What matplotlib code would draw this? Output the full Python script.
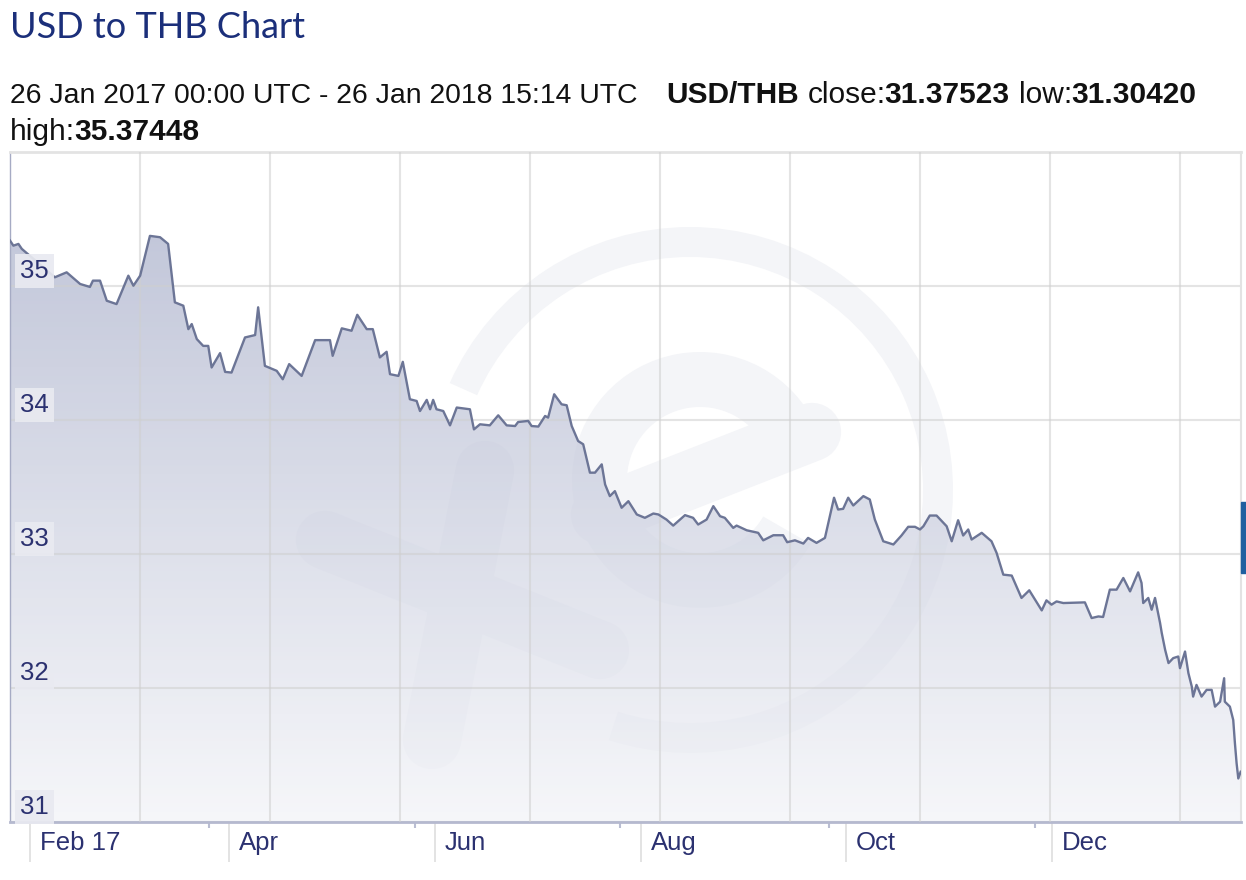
import datetime as dt
import numpy as np
import matplotlib
matplotlib.use("Agg")
import matplotlib.pyplot as plt
import matplotlib.dates as mdates
from matplotlib.colors import LinearSegmentedColormap
from matplotlib.patches import Wedge, Rectangle
from matplotlib.transforms import Affine2D, ScaledTranslation, blended_transform_factory

# USD/THB daily rate, 26 Jan 2017 - 26 Jan 2018 (days counted from start)
start = dt.datetime(2017, 1, 26)
days = [0.0, 1.0, 2.5, 3.5, 13.3, 16.8, 20.8, 23.7, 24.6, 26.7, 28.7, 31.6, 35.1, 36.6, 38.6,
        41.5, 44.5, 46.9, 48.9, 51.4, 52.9, 53.9, 55.4, 57.3, 58.8, 59.8, 62.3, 63.8, 65.7,
        69.7, 72.7, 73.6, 75.6, 79.1, 80.9, 82.8, 86.5, 90.5, 94.9, 95.7, 98.4, 101.3, 103.0,
        105.8, 107.6, 109.7, 111.7, 112.7, 115.2, 116.5, 118.6, 120.6, 121.6, 123.6, 124.6,
        125.5, 126.5, 128.5, 130.5, 132.5, 136.4, 137.6, 139.4, 142.3, 144.8, 147.3, 149.8,
        150.7, 153.7, 154.7, 156.7, 158.7, 159.6, 161.4, 163.6, 165.1, 166.6, 168.5, 170.0,
        172.0, 173.5, 175.5, 176.5, 177.9, 179.4, 181.4, 183.4, 185.9, 188.3, 190.8, 192.3,
        194.7, 196.7, 200.2, 202.6, 204.1, 206.6, 208.6, 210.6, 212.0, 214.5, 215.5, 218.5,
        221.9, 223.4, 226.4, 229.3, 230.5, 232.8, 235.3, 236.7, 239.2, 241.7, 244.4, 245.6,
        247.1, 248.6, 250.1, 253.1, 255.0, 256.5, 259.0, 262.0, 264.4, 266.4, 268.4, 269.9,
        270.9, 272.8, 274.8, 277.8, 279.3, 281.2, 282.7, 284.2, 285.2, 288.2, 291.1, 292.6,
        294.6, 297.1, 300.0, 302.3, 306.0, 307.4, 308.9, 310.4, 312.4, 318.8, 320.8, 322.8,
        324.2, 326.2, 328.2, 330.2, 332.2, 334.6, 335.6, 336.1, 337.6, 338.6, 339.6, 341.1,
        341.6, 342.6, 343.6, 345.0, 346.5, 347.0, 348.5, 349.5, 350.5, 350.9, 351.9, 353.4,
        354.9, 356.4, 357.4, 358.9, 360.1, 360.3, 361.8, 362.8, 363.3, 363.8, 364.3, 365.0]
rates = [35.339, 35.301, 35.314, 35.277, 35.065, 35.102, 35.015, 34.993, 35.040, 35.040,
         34.890, 34.865, 35.077, 35.002, 35.077, 35.374, 35.364, 35.314, 34.878, 34.853,
         34.678, 34.716, 34.604, 34.553, 34.553, 34.392, 34.499, 34.359, 34.354, 34.616,
         34.634, 34.841, 34.404, 34.367, 34.304, 34.417, 34.329, 34.596, 34.596, 34.479,
         34.684, 34.666, 34.785, 34.678, 34.678, 34.467, 34.509, 34.342, 34.329, 34.434,
         34.155, 34.142, 34.067, 34.150, 34.080, 34.150, 34.080, 34.067, 33.960, 34.093,
         34.080, 33.930, 33.968, 33.960, 34.035, 33.960, 33.955, 33.985, 33.993, 33.955,
         33.951, 34.030, 34.018, 34.192, 34.117, 34.110, 33.955, 33.843, 33.819, 33.607,
         33.607, 33.669, 33.519, 33.432, 33.469, 33.345, 33.394, 33.295, 33.270, 33.302,
         33.295, 33.257, 33.212, 33.290, 33.270, 33.220, 33.257, 33.357, 33.282, 33.270,
         33.195, 33.212, 33.177, 33.158, 33.102, 33.140, 33.140, 33.088, 33.102, 33.078,
         33.120, 33.083, 33.120, 33.420, 33.332, 33.337, 33.420, 33.362, 33.432, 33.407,
         33.257, 33.095, 33.071, 33.138, 33.203, 33.203, 33.183, 33.207, 33.287, 33.287,
         33.207, 33.095, 33.252, 33.138, 33.183, 33.108, 33.158, 33.095, 33.009, 32.846,
         32.839, 32.672, 32.729, 32.579, 32.654, 32.622, 32.646, 32.634, 32.639, 32.522,
         32.534, 32.530, 32.734, 32.734, 32.821, 32.721, 32.863, 32.784, 32.634, 32.672,
         32.584, 32.672, 32.485, 32.410, 32.285, 32.186, 32.223, 32.235, 32.148, 32.272,
         32.111, 32.011, 31.936, 32.023, 31.936, 31.986, 31.986, 31.861, 31.898, 32.073,
         31.898, 31.861, 31.761, 31.587, 31.437, 31.325, 31.375]

month_ticks = ["2017-02-01", "2017-04-01", "2017-06-01", "2017-08-01", "2017-10-01", "2017-12-01"]
month_labels = ["Feb 17", "Apr", "Jun", "Aug", "Oct", "Dec"]
minor_ticks = ["2017-03-26", "2017-05-26", "2017-07-26", "2017-09-26", "2017-11-26"]
rate_ticks = [31, 32, 33, 34, 35]

navy = "#2b3170"
W, H = 1246, 880

fig = plt.figure(figsize=(W / 100, H / 100), dpi=100)
fig.patch.set_facecolor("white")
ax = fig.add_axes([10 / W, 1 - 822 / H, 1231 / W, 670 / H])

x0 = mdates.date2num(start)
x1 = x0 + 365.1
xs = x0 + np.array(days)

# pixel coordinates of the picture (y down), used for the faint watermark only
pix = Affine2D().scale(1 / 100, -1 / 100).translate(0, H / 100) + fig.dpi_scale_trans
wm = "#f4f5f8"
ax.add_patch(Wedge((690, 490), 263, -156, 108, width=30, facecolor=wm, edgecolor="none",
                   transform=pix, zorder=0.5))
ax.add_patch(Wedge((700, 480), 128, 30, 336.5, width=55, facecolor=wm, edgecolor="none",
                   transform=pix, zorder=0.5))
for (ax_, ay_), (bx_, by_) in [((325, 540), (600, 650)), ((485, 470), (432, 740)),
                               ((600, 515), (812, 432))]:
    ax.plot([ax_, bx_], [ay_, by_], color=wm, lw=42, solid_capstyle="round",
            transform=pix, zorder=0.5)

# gradient area under the line
poly = ax.fill_between(xs, rates, 31, facecolor="none", edgecolor="none")
cmap = LinearSegmentedColormap.from_list("fillgrad", ["#f3f4f8", "#a2a9c6"])
grad = np.linspace(0, 1, 256).reshape(-1, 1)
im = ax.imshow(grad, extent=[x0, x1, 31, 36], origin="lower", aspect="auto",
               cmap=cmap, alpha=0.72, zorder=1)
im.set_clip_path(poly.get_paths()[0], transform=ax.transData)

ax.plot(xs, rates, color="#6c7596", lw=1.7, zorder=4)

ax.set_xlim(x0, x1)
ax.set_ylim(31, 36)

# grid
ax.set_yticks(rate_ticks)
ax.grid(axis="y", color="#cfcfcf", alpha=0.55, lw=1.5, zorder=3)
grid_x = x0 + np.arange(1, 10) * 38.55
ax.vlines(grid_x, 31, 36, color="#cfcfcf", alpha=0.55, lw=1.5, zorder=3)
ax.tick_params(axis="y", length=0, labelleft=False)

ytrans = blended_transform_factory(ax.transAxes, ax.transData) + \
    ScaledTranslation(0, 3 / 100, fig.dpi_scale_trans)
for v in rate_ticks:
    ax.text(10 / 1231, v, str(v), transform=ytrans, ha="left", va="bottom",
            fontsize=18.5, color=navy, family="Liberation Sans", zorder=6,
            bbox=dict(boxstyle="square,pad=0.2", fc="#e9eaf1", ec="none", alpha=0.92))

# x axis
ax.set_xticks(mdates.datestr2num(month_ticks))
ax.set_xticklabels(month_labels)
ax.set_xticks(mdates.datestr2num(minor_ticks), minor=True)
ax.tick_params(axis="x", which="major", length=28.8, width=1.2, color="#dedede",
               pad=-22, labelsize=18.5, labelcolor=navy)
ax.tick_params(axis="x", which="minor", length=4, width=1.5, color="#b9bdd2")
for lbl in ax.get_xticklabels():
    lbl.set_horizontalalignment("left")
    lbl.set_family("Liberation Sans")
    lbl.set_transform(lbl.get_transform() + ScaledTranslation(10 / 100, 0, fig.dpi_scale_trans))

ax.spines["left"].set_color("#a6abc4")
ax.spines["left"].set_linewidth(1)
ax.spines["bottom"].set_color("#b5b9cf")
ax.spines["bottom"].set_linewidth(2)
ax.spines["top"].set_color("#e3e3e3")
ax.spines["top"].set_linewidth(2)
ax.spines["right"].set_color("#e3e3e3")
ax.spines["right"].set_linewidth(1.5)

# header
fig.text(10 / W, 1 - 38 / H, "USD to THB Chart", fontsize=26, color="#1b2f7a",
         family="Lato", va="baseline", ha="left")

renderer = fig.canvas.get_renderer()


def text_run(pieces, x, y, size):
    for s, weight, gap in pieces:
        t = fig.text(x / W, 1 - y / H, s, fontsize=size, fontweight=weight,
                     family="Liberation Sans", color="#111111", va="baseline", ha="left")
        x += t.get_window_extent(renderer).width + gap


text_run([("26 Jan 2017 00:00 UTC - 26 Jan 2018 15:14 UTC", "normal", 0)], 10, 103, 20.4)
text_run([("USD/THB", "bold", 9), ("close:", "normal", -1), ("31.37523", "bold", 9),
          ("low:", "normal", -1), ("31.30420", "bold", 0)], 666, 103, 21.5)
text_run([("high:", "normal", -1), ("35.37448", "bold", 0)], 10, 140, 21.5)

fig.patches.append(Rectangle((1241 / W, 1 - 573 / H), 5 / W, 71 / H,
                             transform=fig.transFigure, color="#2060a0"))

fig.savefig("out.png", dpi=100)
